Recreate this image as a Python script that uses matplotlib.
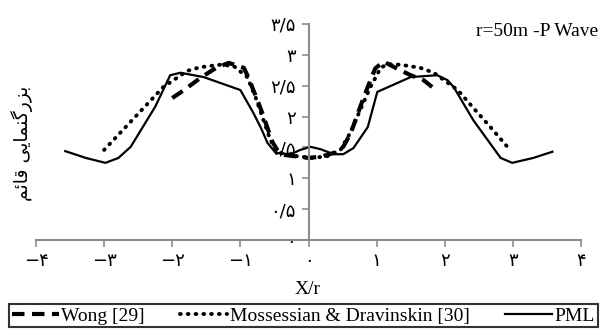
import matplotlib
matplotlib.use("Agg")
import matplotlib.pyplot as plt

# ---- data ----
pml_x = [-3.57, -3.27, -2.98, -2.79, -2.61, -2.25, -2.03, -1.88, -1.54, -1.0, -0.81, -0.70, -0.60, -0.48,
         -0.26, -0.12, 0.03, 0.18, 0.37, 0.51, 0.66, 0.87, 1.01, 1.50, 1.89, 2.04, 2.13, 2.42, 2.82,
         2.99, 3.30, 3.58]
pml_y = [1.44, 1.33, 1.25, 1.33, 1.51, 2.16, 2.67, 2.71, 2.64, 2.43, 2.06, 1.82, 1.57, 1.41,
         1.39, 1.46, 1.51, 1.47, 1.39, 1.39, 1.49, 1.83, 2.40, 2.64, 2.67, 2.59, 2.48, 1.94, 1.33,
         1.25, 1.33, 1.43]

moss_x = [-3.0, -2.13, -1.78, -1.59, -1.29, -1.10, -0.90, -0.78, -0.66, -0.56, -0.46, -0.31, -0.12,
          0.07, 0.28, 0.47, 0.62, 0.76, 0.91, 1.06, 1.16, 1.35, 1.64, 1.84, 2.19, 2.42, 2.67, 2.95]
moss_y = [1.46, 2.48, 2.74, 2.80, 2.84, 2.82, 2.64, 2.32, 1.94, 1.62, 1.43, 1.38, 1.35,
          1.33, 1.36, 1.46, 1.75, 2.11, 2.48, 2.79, 2.85, 2.84, 2.79, 2.71, 2.43, 2.14, 1.83, 1.47]

wong_x = [-2.0, -1.84, -1.63, -1.54, -1.34, -1.17, -0.95, -0.88, -0.81, -0.75, -0.66, -0.60, -0.53,
          -0.46, -0.37, 0.0, 0.18, 0.37, 0.51, 0.62, 0.76, 0.87, 0.98, 1.10, 1.35, 1.50, 1.69, 1.87]
wong_y = [2.30, 2.42, 2.59, 2.66, 2.80, 2.87, 2.79, 2.63, 2.43, 2.27, 2.00, 1.81, 1.59,
          1.46, 1.38, 1.33, 1.35, 1.41, 1.51, 1.73, 2.16, 2.48, 2.78, 2.89, 2.75, 2.67, 2.59, 2.43]

x_ticks = [-4, -3, -2, -1, 0, 1, 2, 3, 4]
x_tick_labels = ['−۴', '−۳', '−۲', '−۱', '۰', '۱', '۲', '۳', '۴']
y_ticks = [0, 0.5, 1, 1.5, 2, 2.5, 3, 3.5]
y_tick_labels = ['۰', '۰/۵', '۱', '۱/۵', '۲', '۲/۵', '۳', '۳/۵']

series_labels = ['Wong [29]', 'Mossessian & Dravinskin [30]', 'PML']
title_text = 'r=50m -P Wave'
x_label = 'X/r'
# "بزرگنمایی قائم" in presentation forms, visual (left-to-right) order
y_label = '\uFEE2\uFE8B\uFE8E\uFED7 \uFBFD\uFBFE\uFE8E\uFEE4\uFEE8\uFB94\uFEAD\uFEB0\uFE91'

serif = ['Liberation Serif', 'DejaVu Serif']

fig = plt.figure(figsize=(6.0, 3.29), dpi=100)
ax = fig.add_axes([36/600, 1-240/329, 545/600, 216/329])

l1, = ax.plot(wong_x, wong_y, color='black', lw=3.0, linestyle=(0, (3.0, 1.8)))
l2, = ax.plot(moss_x, moss_y, color='black', lw=2.8, linestyle=(0, (0.2, 1.8)),
              dash_capstyle='round')
l3, = ax.plot(pml_x, pml_y, color='black', lw=1.6)

ax.set_xlim(-4, 4)
ax.set_ylim(0, 3.5)
ax.spines['left'].set_position(('data', 0))
ax.spines['bottom'].set_position(('data', 0))
ax.spines['right'].set_visible(False)
ax.spines['top'].set_visible(False)
for s in ('left', 'bottom'):
    ax.spines[s].set_color('#8c8c8c')
    ax.spines[s].set_linewidth(1.5)
ax.set_xticks(x_ticks)
ax.set_xticklabels(x_tick_labels, fontfamily='DejaVu Sans', fontsize=13)
ax.set_yticks(y_ticks)
ax.set_yticklabels(y_tick_labels, fontfamily='DejaVu Sans', fontsize=13)
ax.tick_params(axis='both', direction='out', color='#8c8c8c', width=1.2, length=5, pad=4)
ax.patch.set_alpha(0)

fig.text(598/600, 1-32/329, title_text, ha='right', va='center', family=serif, fontsize=14)
fig.text(308/600, 1-290/329, x_label, ha='center', va='center', family=serif, fontsize=14)
fig.text(22/600, 1-143/329, y_label, ha='center', va='center', rotation=90,
         family='DejaVu Sans', fontsize=13.5)

leg = fig.legend([l1, l2, l3], series_labels, loc='upper left', ncol=3,
                 bbox_to_anchor=(9/600, 1-304/329, 589/600, 0), mode='expand',
                 prop={'family': serif, 'size': 14}, frameon=True, fancybox=False,
                 edgecolor='black', handlelength=2.4, handletextpad=0.15,
                 borderpad=0.15, borderaxespad=0)
leg.get_frame().set_linewidth(1.5)

fig.savefig('out.png', dpi=100)
